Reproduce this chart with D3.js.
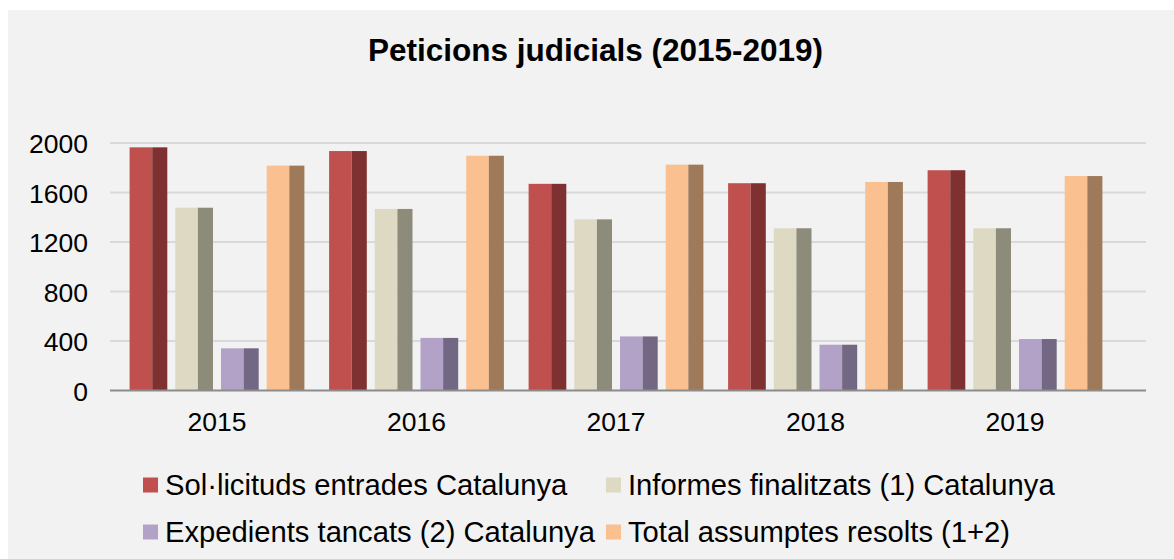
<!DOCTYPE html>
<html>
<head>
<meta charset="utf-8">
<script src="https://cdn.jsdelivr.net/npm/d3@7"></script>
<style>
html,body{margin:0;padding:0;background:#fff;}
svg{display:block;font-family:"Liberation Sans",Arial,sans-serif;}
</style>
</head>
<body>
<svg id="chart" width="1174" height="559"></svg>
<script>
const years = ["2015","2016","2017","2018","2019"];
const seriesNames = ["Sol·licituds entrades Catalunya","Informes finalitzats (1) Catalunya","Expedients tancats (2) Catalunya","Total assumptes resolts (1+2)"];
const solicituds = [1965, 1935, 1670, 1675, 1780];
const informes = [1477, 1467, 1383, 1311, 1311];
const expedients = [341, 425, 437, 370, 416];
const total = [1817, 1897, 1825, 1685, 1733];
const yTicks = [0, 400, 800, 1200, 1600, 2000];
const frontColors = ["#c0504d","#ddd9c3","#b3a2c7","#fac090"];
const sideColors = ["#7f3131","#8d8b7a","#726883","#9e7a5a"];

const allSeries = [solicituds, informes, expedients, total];

const svg = d3.select("#chart");
svg.append("rect").attr("x",8).attr("y",10).attr("width",1166).attr("height",549).attr("fill","#f2f2f2");

svg.append("text").attr("x",595.5).attr("y",61).attr("text-anchor","middle")
  .attr("font-size",31.5).attr("font-weight","bold").attr("fill","#000")
  .text("Peticions judicials (2015-2019)");

const y = d3.scaleLinear().domain([0,2000]).range([390.5,143]);
const x0 = d3.scaleBand().domain(years).range([117.25,1114.75]).padding(0);
const x1 = d3.scaleBand().domain(d3.range(4)).range([12.35,12.35+174.8]).paddingInner(0.175).paddingOuter(0);

// gridlines
svg.append("g").selectAll("line").data(yTicks.filter(d=>d>0)).join("line")
  .attr("x1",110).attr("x2",1146).attr("y1",d=>y(d)).attr("y2",d=>y(d))
  .attr("stroke","#d9d9d9").attr("stroke-width",2);

// y labels
const yAxis = d3.axisLeft(y).tickValues(yTicks).tickFormat(d3.format("d")).tickSize(0).tickPadding(0);
const ga = svg.append("g").attr("transform","translate(88,0)").call(yAxis);
ga.select(".domain").remove();
ga.selectAll("text").attr("font-size",26.5).attr("fill","#000").attr("font-family","Liberation Sans, Arial, sans-serif").attr("dy","0.36em");

// bars
const groups = svg.append("g").selectAll("g").data(years).join("g")
  .attr("transform",d=>`translate(${x0(d)},0)`);
const bw = x1.bandwidth();
const fw = bw*0.6;
groups.each(function(yr, yi){
  const g = d3.select(this);
  allSeries.forEach((s, si)=>{
    const v = s[yi];
    const bx = x1(si);
    g.append("rect").attr("x",bx).attr("y",y(v)).attr("width",fw).attr("height",y(0)-y(v))
      .attr("fill",frontColors[si]);
    g.append("rect").attr("x",bx+fw).attr("y",y(v)).attr("width",bw-fw).attr("height",y(0)-y(v))
      .attr("fill",sideColors[si]);
  });
});

// axis base line
svg.append("line").attr("x1",110).attr("x2",1146).attr("y1",y(0)).attr("y2",y(0))
  .attr("stroke","#8c8c8c").attr("stroke-width",2);

// x labels
const xAxis = d3.axisBottom(x0).tickSize(0).tickPadding(0);
const gx = svg.append("g").attr("transform","translate(0,431)").call(xAxis);
gx.select(".domain").remove();
gx.selectAll("text").attr("font-size",26.5).attr("fill","#000").attr("font-family","Liberation Sans, Arial, sans-serif").attr("dy","0");

// legend
const legPos = [[143,495],[606,495],[143,542],[606,542]];
const leg = svg.append("g").selectAll("g").data(seriesNames).join("g")
  .attr("transform",(d,i)=>`translate(${legPos[i][0]},${legPos[i][1]})`);
leg.append("rect").attr("x",0).attr("y",-17.5).attr("width",15).attr("height",15)
  .attr("fill",(d,i)=>frontColors[i]);
leg.append("text").attr("x",22).attr("y",0).attr("font-size",29.2).attr("fill","#000").text(d=>d);
</script>
</body>
</html>
